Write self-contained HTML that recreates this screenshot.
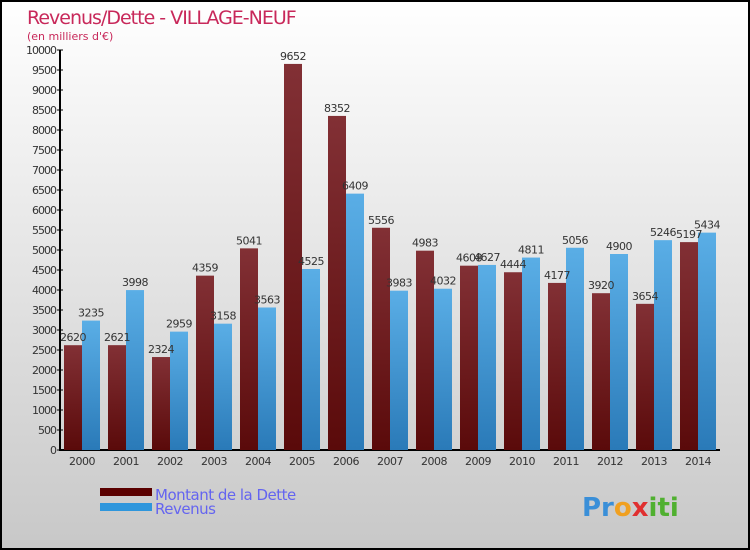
<!DOCTYPE html>
<html><head><meta charset="utf-8"><style>
body{margin:0}
svg{display:block;font-family:"DejaVu Sans","Liberation Sans",sans-serif}
</style></head><body>
<svg width="750" height="550">
<defs>
<linearGradient id="bg" x1="0" y1="0" x2="0" y2="1"><stop offset="0" stop-color="#ffffff"/><stop offset="1" stop-color="#c8c8c8"/></linearGradient>
<linearGradient id="gd" x1="0" y1="0" x2="0" y2="1"><stop offset="0" stop-color="#823035"/><stop offset="1" stop-color="#5a0a0a"/></linearGradient>
<linearGradient id="gr" x1="0" y1="0" x2="0" y2="1"><stop offset="0" stop-color="#5aaee6"/><stop offset="1" stop-color="#2a7ab8"/></linearGradient>
</defs>
<rect x="1" y="1" width="748" height="548" fill="url(#bg)" stroke="#000" stroke-width="2"/>
<text x="27" y="24" font-size="19" fill="#c8285a" style="letter-spacing:-1px">Revenus/Dette - VILLAGE-NEUF</text>
<text x="27" y="40" font-size="11" fill="#c8285a">(en milliers d'€)</text>
<g id="plot"></g>
<rect x="100" y="488" width="52" height="8" fill="#5a0000"/>
<rect x="100" y="503" width="52" height="8" fill="#2e96dc"/>
<text x="155" y="500" font-size="15" fill="#6464f0" style="letter-spacing:-0.5px">Montant de la Dette</text>
<text x="155" y="514" font-size="15" fill="#6464f0" style="letter-spacing:-0.5px">Revenus</text>
<text x="582" y="516" font-size="26" font-weight="bold"><tspan fill="#3a8fd8">Pr</tspan><tspan fill="#f0a020">o</tspan><tspan fill="#e03030">x</tspan><tspan fill="#50b030">iti</tspan></text>
</svg>
<script>
const years=["2000","2001","2002","2003","2004","2005","2006","2007","2008","2009","2010","2011","2012","2013","2014"];
const dette=[2620,2621,2324,4359,5041,9652,8352,5556,4983,4608,4444,4177,3920,3654,5197];
const revenus=[3235,3998,2959,3158,3563,4525,6409,3983,4032,4627,4811,5056,4900,5246,5434];
const yTicks=[0,500,1000,1500,2000,2500,3000,3500,4000,4500,5000,5500,6000,6500,7000,7500,8000,8500,9000,9500,10000];
const NS="http://www.w3.org/2000/svg";
const g=document.getElementById('plot');
const y=v=>450-v*0.04;
const xc=i=>82+i*44;
function mk(t,a){const e=document.createElementNS(NS,t);for(const k in a)e.setAttribute(k,a[k]);g.appendChild(e);return e;}
let e=mk('line',{x1:60,y1:50,x2:60,y2:451,stroke:'#000','stroke-width':2});


e=mk('line',{x1:59,y1:450,x2:720,y2:450,stroke:'#000','stroke-width':2});


yTicks.forEach(v=>{
 let t=mk('line',{x1:57,y1:y(v),x2:63,y2:y(v),stroke:'#000'});
 
 
 let l=mk('text',{x:56,y:y(v)+4,'font-size':11,'text-anchor':'end',fill:'#333','letter-spacing':'-1'});
 l.textContent=v;
 
 
});
years.forEach((yr,i)=>{
 let c=xc(i);
 let l=mk('text',{x:c,y:465,'font-size':11,'text-anchor':'middle',fill:'#333','letter-spacing':'-0.5'});
 l.textContent=yr;
 
 
 let b=mk('rect',{x:c-18,y:y(dette[i]),width:18,height:450-y(dette[i]),fill:'url(#gd)'});
 
 
 let r=mk('rect',{x:c,y:y(revenus[i]),width:18,height:450-y(revenus[i]),fill:'url(#gr)'});
 
 
 let t1=mk('text',{x:c-9,y:y(dette[i])-4,'font-size':11,'text-anchor':'middle',fill:'#333','letter-spacing':'-0.5'});
 t1.textContent=dette[i];
 
 
 let t2=mk('text',{x:c+9,y:y(revenus[i])-4,'font-size':11,'text-anchor':'middle',fill:'#333','letter-spacing':'-0.5'});
 t2.textContent=revenus[i];
 
 
});
</script>
</body></html>
